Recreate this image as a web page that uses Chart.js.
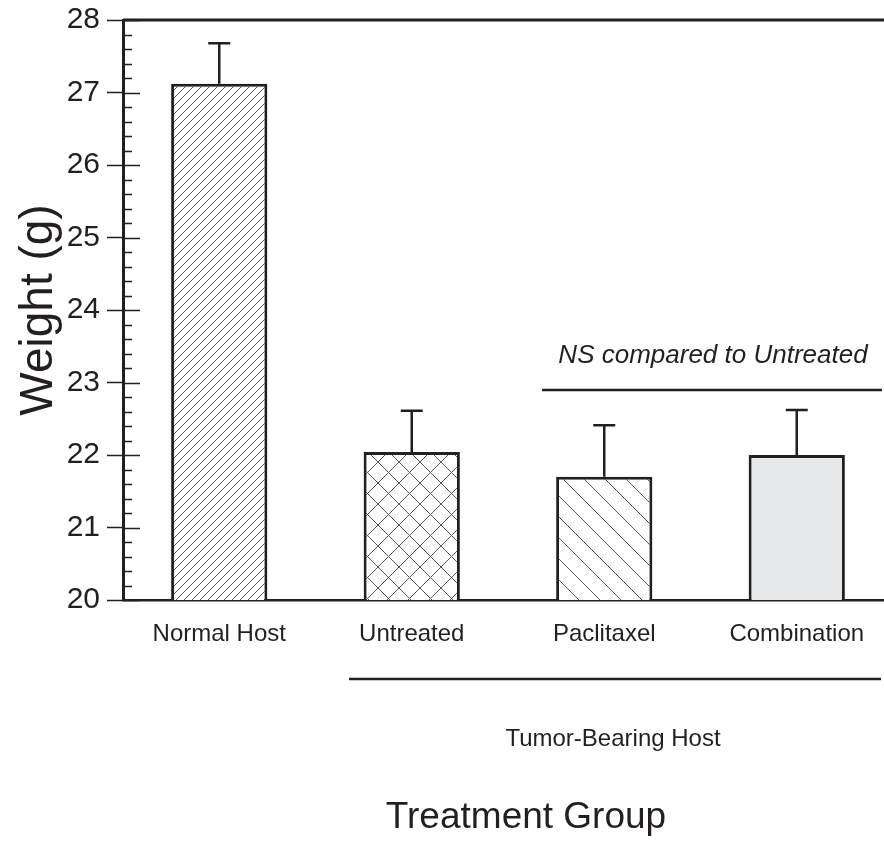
<!DOCTYPE html>
<html>
<head>
<meta charset="utf-8">
<style>
html, body { margin:0; padding:0; background:#fff; overflow:hidden; }
#wrap { position:relative; width:900px; height:865px; }
</style>
<script src="https://cdn.jsdelivr.net/npm/chart.js@4.4.1/dist/chart.umd.min.js"></script>
</head>
<body>
<div id="wrap"><canvas id="chart" width="900" height="865"></canvas></div>
<script>
// data
var groups = ['Normal Host', 'Untreated', 'Paclitaxel', 'Combination'];
var weightMean = [27.12, 22.04, 21.70, 22.00];
var weightErr = [0.56, 0.57, 0.71, 0.62];
var yTicks = [20, 21, 22, 23, 24, 25, 26, 27, 28];

var ink = '#231f20';
var font = "'Liberation Sans', Arial, Helvetica, sans-serif";

// hatch fill for the bars
function hatch(size, dirs){
	var c = document.createElement('canvas');
	c.width = size; c.height = size;
	var g = c.getContext('2d'), k;
	g.fillStyle = '#fff';
	g.fillRect(0, 0, size, size);
	g.strokeStyle = '#555';
	g.lineWidth = 1;
	g.beginPath();
	for (k = -1; k <= 1; k++){
		if (dirs.indexOf('/') > -1){ g.moveTo(k*size, size); g.lineTo(k*size + size, 0); }
		if (dirs.indexOf('\\') > -1){ g.moveTo(k*size, 0); g.lineTo(k*size + size, size); }
	}
	g.stroke();
	return g.createPattern(c, 'repeat');
}

var fills = [hatch(8, '/'), hatch(21, '/\\'), hatch(21, '\\'), '#e6e7e9'];

// error bars (upper only)
var errorBars = {
	id: 'errorBars',
	afterDatasetsDraw: function(chart){
		var ctx = chart.ctx,
			y = chart.scales.y,
			meta = chart.getDatasetMeta(0);
		ctx.save();
		ctx.strokeStyle = ink;
		ctx.lineWidth = 2.5;
		meta.data.forEach(function(bar, i){
			var top = y.getPixelForValue(weightMean[i] + weightErr[i]);
			ctx.beginPath();
			ctx.moveTo(bar.x, bar.y);
			ctx.lineTo(bar.x, top);
			ctx.moveTo(bar.x - 11, top);
			ctx.lineTo(bar.x + 11, top);
			ctx.stroke();
		});
		ctx.restore();
	}
};

// frame, inner ticks and the annotations
var extras = {
	id: 'extras',
	afterDraw: function(chart){
		var ctx = chart.ctx,
			area = chart.chartArea,
			y = chart.scales.y,
			v, py;
		ctx.save();
		ctx.strokeStyle = ink;

		// top frame line
		ctx.lineWidth = 3;
		ctx.beginPath();
		ctx.moveTo(area.left, area.top);
		ctx.lineTo(area.right, area.top);
		ctx.stroke();

		// major ticks inside the axis
		ctx.lineWidth = 1.5;
		ctx.beginPath();
		yTicks.forEach(function(t){
			py = Math.round(y.getPixelForValue(t)) + 0.5;
			ctx.moveTo(area.left, py);
			ctx.lineTo(area.left + 17, py);
		});
		// minor ticks every 0.2
		for (v = 20.2; v < 28; v += 0.2){
			if (Math.abs(v - Math.round(v)) < 0.01) continue;
			py = Math.round(y.getPixelForValue(v)) + 0.5;
			ctx.moveTo(area.left, py);
			ctx.lineTo(area.left + 9, py);
		}
		ctx.stroke();

		// group lines
		ctx.lineWidth = 2.5;
		ctx.beginPath();
		ctx.moveTo(542, 390); ctx.lineTo(882, 390);
		ctx.moveTo(349, 679); ctx.lineTo(881, 679);
		ctx.stroke();

		ctx.fillStyle = ink;
		ctx.textAlign = 'center';
		ctx.textBaseline = 'middle';
		ctx.font = 'italic 26px ' + font;
		ctx.fillText('NS compared to Untreated', 713, 356);
		ctx.font = '24px ' + font;
		ctx.fillText('Tumor-Bearing Host', 613, 739);
		ctx.font = '37px ' + font;
		ctx.fillText('Treatment Group', 526, 818);
		ctx.restore();
	}
};

new Chart(document.getElementById('chart'), {
	type: 'bar',
	data: {
		labels: groups,
		datasets: [{
			data: weightMean,
			backgroundColor: fills,
			borderColor: ink,
			borderWidth: 3,
			borderSkipped: false,
			barPercentage: 0.5,
			categoryPercentage: 1
		}]
	},
	options: {
		responsive: false,
		animation: false,
		layout: { padding: { top: 20, right: 7, bottom: 0, left: 0 } },
		plugins: { legend: { display: false }, tooltip: { enabled: false } },
		scales: {
			x: {
				afterFit: function(s){ s.height = 265; s.paddingLeft = 0; s.paddingRight = 0; },
				grid: { display: true, drawOnChartArea: false, drawTicks: false },
				border: { display: true, color: ink, width: 2.5 },
				ticks: { color: ink, padding: 20, font: { family: font, size: 24 } }
			},
			y: {
				min: 20,
				max: 28,
				afterFit: function(s){ s.width = 123; s.paddingTop = 0; s.paddingBottom = 0; },
				afterBuildTicks: function(s){ s.ticks = yTicks.map(function(t){ return { value: t }; }); },
				grid: { drawOnChartArea: false, tickLength: 16, tickWidth: 1.5, tickColor: ink },
				border: { display: true, color: ink, width: 3 },
				ticks: { color: ink, padding: 7, font: { family: font, size: 30 } },
				title: {
					display: true,
					text: 'Weight (g)',
					color: ink,
					padding: { top: 12, bottom: 0 },
					font: { family: font, size: 46 }
				}
			}
		}
	},
	plugins: [errorBars, extras]
});
</script>
</body>
</html>
